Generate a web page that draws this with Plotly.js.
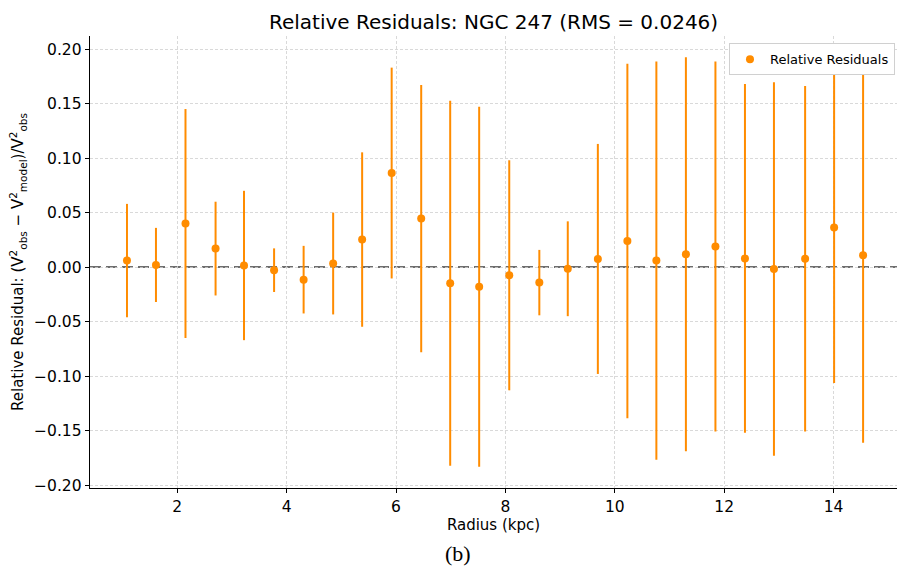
<!DOCTYPE html>
<html>
<head>
<meta charset="utf-8">
<script src="https://cdn.plot.ly/plotly-3.0.1.min.js"></script>
<style>html,body{margin:0;padding:0;background:#fff;}#chart{width:899px;height:568px;}</style>
</head>
<body>
<div id="chart"></div>
<script>
const radius = [1.08, 1.61, 2.15, 2.70, 3.22, 3.77, 4.31, 4.85, 5.38, 5.92, 6.46, 6.99, 7.52,
                8.07, 8.62, 9.14, 9.69, 10.23, 10.76, 11.30, 11.84, 12.38, 12.91, 13.48, 14.01, 14.54];
const residual = [0.006, 0.002, 0.040, 0.017, 0.0015, -0.0028, -0.0115, 0.0033, 0.0253, 0.0863, 0.0445, -0.0147, -0.018,
                  -0.0075, -0.0142, -0.0015, 0.0075, 0.024, 0.006, 0.0118, 0.0189, 0.008, -0.0017, 0.0077, 0.0364, 0.011];
const errors = [0.052, 0.034, 0.105, 0.043, 0.0685, 0.020, 0.031, 0.0467, 0.080, 0.0967, 0.1225, 0.1674, 0.165,
                0.1055, 0.030, 0.0435, 0.1055, 0.1626, 0.1826, 0.1808, 0.1696, 0.160, 0.1713, 0.1584, 0.1427, 0.172];
const xTicks = [2, 4, 6, 8, 10, 12, 14];
const yTicks = [-0.20, -0.15, -0.10, -0.05, 0.00, 0.05, 0.10, 0.15, 0.20];
const rms = 0.0246;

const orange = '#ff8c00';
const trace = {
  x: radius, y: residual, type: 'scatter', mode: 'markers',
  name: 'Relative Residuals',
  marker: {color: orange, size: 8},
  error_y: {type: 'data', array: errors, visible: true, color: orange, thickness: 2, width: 0}
};

const gridStyle = {showgrid: true, gridcolor: '#cfcfcf', griddash: '3px,2px', gridwidth: 0.8};

const layout = {
  width: 899, height: 568,
  margin: {l: 90, r: 2, t: 36, b: 80},
  paper_bgcolor: '#fff', plot_bgcolor: '#fff',
  font: {family: 'DejaVu Sans', color: '#000', size: 15},
  title: {text: 'Relative Residuals: NGC 247 (RMS = ' + rms.toFixed(4) + ')',
          font: {size: 20, family: 'DejaVu Sans'}, x: 0.549, xanchor: 'center', y: 0.961, yanchor: 'middle'},
  xaxis: Object.assign({
    range: [0.404, 15.16], tickvals: xTicks, ticktext: xTicks.map(String),
    zeroline: false, showline: true, linecolor: '#000', linewidth: 1.3,
    ticks: 'outside', ticklen: 4, tickcolor: '#000', tickwidth: 1,
    title: {text: 'Radius (kpc)', font: {size: 15}, standoff: 4},
    tickfont: {size: 15.5}
  }, gridStyle),
  yaxis: Object.assign({
    range: [-0.2026, 0.212], tickvals: yTicks, ticktext: yTicks.map(v => (v < 0 ? '\u2212' : '') + Math.abs(v).toFixed(2)),
    zeroline: false, showline: true, linecolor: '#000', linewidth: 1.3,
    ticks: 'outside', ticklen: 4, tickcolor: '#000', tickwidth: 1,
    title: {text: 'Relative Residual: (V<sup>2</sup><sub>obs</sub> \u2212 V<sup>2</sup><sub>model</sub>)/V<sup>2</sup><sub>obs</sub>',
            font: {size: 15}, standoff: 6},
    tickfont: {size: 15.5}
  }, gridStyle),
  shapes: [{type: 'line', xref: 'paper', x0: 0, x1: 1, yref: 'y', y0: 0, y1: 0,
            line: {color: '#6e6e6e', width: 2, dash: '11px,5px'}, layer: 'below'}],
  showlegend: true,
  legend: {x: 0.9975, xanchor: 'right', y: 0.984, yanchor: 'top', bgcolor: '#fff',
           bordercolor: '#d0d0d0', borderwidth: 1, font: {size: 13}},
  annotations: [{text: '(b)', xref: 'paper', yref: 'paper', x: 0.456, y: -0.144, xanchor: 'center', yanchor: 'middle',
                 showarrow: false, font: {family: 'Liberation Serif', size: 22, color: '#000'}}]
};

Plotly.newPlot('chart', [trace], layout, {displayModeBar: false, staticPlot: true});
</script>
</body>
</html>
